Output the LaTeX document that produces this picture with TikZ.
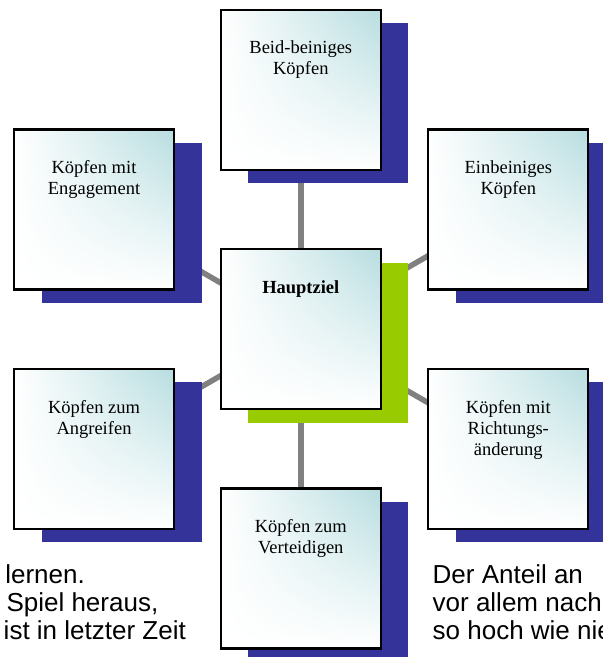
\documentclass[tikz,border=0pt]{standalone}
\usepackage{fontspec}
\usetikzlibrary{shadings}
\setmainfont{Liberation Serif}
\newfontfamily\arialf{Liberation Sans}
\definecolor{shblue}{HTML}{333399}
\definecolor{shgreen}{HTML}{99CC00}
\definecolor{conngray}{HTML}{808080}
\definecolor{tealc}{HTML}{B7DDE0}
\begin{document}
\begin{tikzpicture}[x=1pt,y=-1pt,
  conn/.style={draw=conngray,line width=5.5pt},
  boxnode/.style={rectangle,draw=black,line width=2.2pt,minimum width=160pt,minimum height=160pt,inner sep=0pt,
    shade,upper right=tealc,upper left=white,lower left=white,lower right=white},
  shadowbox/.style={rectangle,minimum width=160pt,minimum height=160pt,inner sep=0pt,draw=none},
  blueshadow/.style={shadowbox,fill=shblue},
  greenshadow/.style={shadowbox,fill=shgreen},
  lbl/.style={font=\fontsize{18.5}{21}\selectfont,align=center,inner sep=0pt,anchor=north,text=black},
  para/.style={font=\arialf\fontsize{26}{28}\selectfont,inner sep=0pt,text=black}
]
\useasboundingbox (0,0) rectangle (603,657);
\clip (0,0) rectangle (603,657);
\fill[white] (0,0) rectangle (603,657);
% centres
\coordinate (c-top) at (300.8,89.6);
\coordinate (c-mid) at (300.8,329.3);
\coordinate (c-lu) at (94,209.5);
\coordinate (c-ll) at (94,449);
\coordinate (c-ru) at (508.3,209.5);
\coordinate (c-rl) at (508.3,449);
\coordinate (c-bot) at (300.8,568.5);
% connectors
\draw[conn] (c-mid) -- (c-top);
\draw[conn] (c-mid) -- (c-bot);
\draw[conn] (c-mid) -- (c-lu);
\draw[conn] (c-mid) -- (c-ll);
\draw[conn] (c-mid) -- (c-ru);
\draw[conn] (c-mid) -- (c-rl);
% shadows
\node[blueshadow] (s-top) at ([shift={(27.5,13.3)}]c-top) {};
\node[greenshadow] (s-mid) at ([shift={(27.5,13.3)}]c-mid) {};
\node[blueshadow] (s-lu) at ([shift={(27.5,13.3)}]c-lu) {};
\node[blueshadow] (s-ll) at ([shift={(27.5,13.3)}]c-ll) {};
\node[blueshadow] (s-ru) at ([shift={(27.5,13.3)}]c-ru) {};
\node[blueshadow] (s-rl) at ([shift={(27.5,13.3)}]c-rl) {};
\node[blueshadow] (s-bot) at ([shift={(27.5,13.3)}]c-bot) {};
% boxes
\node[boxnode] (top) at (c-top) {};
\node[boxnode] (mid) at (c-mid) {};
\node[boxnode] (lu) at (c-lu) {};
\node[boxnode] (ll) at (c-ll) {};
\node[boxnode] (ru) at (c-ru) {};
\node[boxnode] (rl) at (c-rl) {};
\node[boxnode] (bot) at (c-bot) {};
% labels
\node[lbl] (top-t) at ([yshift=-28pt]top.north) {\rule{0pt}{17pt}Beid-beiniges\\Köpfen};
\node[lbl] (mid-t) at ([yshift=-28pt]mid.north) {\rule{0pt}{17pt}\bfseries Hauptziel};
\node[lbl] (lu-t) at ([yshift=-28pt]lu.north) {\rule{0pt}{17pt}Köpfen mit\\Engagement};
\node[lbl] (ll-t) at ([yshift=-28pt]ll.north) {\rule{0pt}{17pt}Köpfen zum\\Angreifen};
\node[lbl] (ru-t) at ([yshift=-28pt]ru.north) {\rule{0pt}{17pt}Einbeiniges\\Köpfen};
\node[lbl] (rl-t) at ([yshift=-28pt]rl.north) {\rule{0pt}{17pt}Köpfen mit\\Richtungs-\\änderung};
\node[lbl] (bot-t) at ([yshift=-28pt]bot.north) {\rule{0pt}{17pt}Köpfen zum\\Verteidigen};
% background paragraph fragments
\node[para,anchor=base east] (pl1) at (85,583.3) {lernen.};
\node[para,anchor=base east] (pl2) at (158.5,611.5) {Spiel heraus,};
\node[para,anchor=base east] (pl3) at (186,639.5) {ist in letzter Zeit};
\node[para,anchor=base west] (pr1) at (432.5,583.3) {Der Anteil an};
\node[para,anchor=base west] (pr2) at (432.5,611.5) {vor allem nach};
\node[para,anchor=base west] (pr3) at (432.5,639.5) {so hoch wie nie};
\end{tikzpicture}
\end{document}
